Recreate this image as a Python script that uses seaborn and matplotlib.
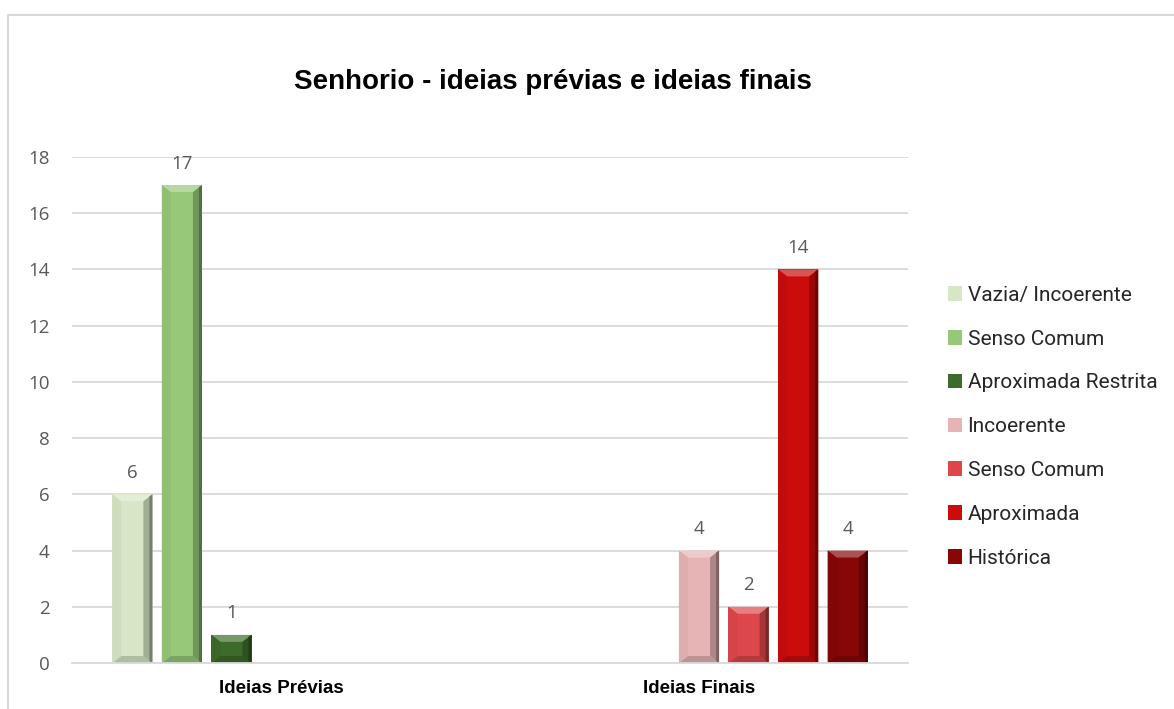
import numpy as np
import pandas as pd
import matplotlib
matplotlib.use("Agg")
import matplotlib.pyplot as plt
from matplotlib.patches import Polygon, Rectangle, Patch
from matplotlib.colors import to_rgb
import seaborn as sns

# --- data -------------------------------------------------------------
phases = ["Ideias Prévias", "Ideias Finais"]
series_keys = ["vazia_prev", "senso_prev", "aprox_restrita",
               "incoerente_fin", "senso_fin", "aproximada_fin", "historica_fin"]
series_labels = ["Vazia/ Incoerente", "Senso Comum", "Aproximada Restrita",
                 "Incoerente", "Senso Comum", "Aproximada", "Histórica"]
previas = [6, 17, 1, 0, 0, 0, 0]
finais = [0, 0, 0, 4, 2, 14, 4]
series_colors = ["#d6e6c6", "#97c878", "#3e6a2a",
                 "#e7b4b5", "#dd474b", "#cc0b0b", "#870606"]
y_ticks = [0, 2, 4, 6, 8, 10, 12, 14, 16, 18]
title = "Senhorio - ideias prévias e ideias finais"

rows = []
for phase, vals in zip(phases, [previas, finais]):
    for key, v in zip(series_keys, vals):
        rows.append({"fase": phase, "serie": key, "n": v})
df = pd.DataFrame(rows)

# --- figure -----------------------------------------------------------
sns.set_style("white")
plt.rcParams["font.family"] = ["Open Sans", "DejaVu Sans"]

W, H = 1174, 709
fig = plt.figure(figsize=(W / 100, H / 100), dpi=100)
ax = fig.add_axes([72 / W, 1 - 663 / H, (908 - 72) / W, (663 - 157) / H])

sns.barplot(data=df, x="fase", y="n", hue="serie", hue_order=series_keys,
            order=phases, palette=series_colors, width=0.83, gap=0.19,
            ax=ax, legend=False, saturation=1, linewidth=0)

ax.set_xlim(-0.5, 1.5)
ax.set_ylim(0, 18)
ax.set_yticks(y_ticks)
ax.set_xlabel("")
ax.set_ylabel("")

# grid and spines
ax.yaxis.grid(True, color="#d9d9d9", linewidth=1.3)
ax.set_axisbelow(True)
for s in ["left", "right", "top"]:
    ax.spines[s].set_visible(False)
ax.spines["bottom"].set_color("#d9d9d9")
ax.spines["bottom"].set_linewidth(1.3)

ax.tick_params(axis="y", length=0, pad=16, labelsize=13.5, labelcolor="#595959")
ax.tick_params(axis="x", which="major", length=0, pad=12)
ax.set_xticks([-0.5, 0.5, 1.5], minor=True)
ax.tick_params(axis="x", which="minor", length=7, color="#d9d9d9", width=1.3)
for lbl in ax.get_xticklabels():
    lbl.set_fontfamily("Liberation Sans")
    lbl.set_fontweight("bold")
    lbl.set_fontsize(13.5)
    lbl.set_color("black")

# --- bevelled bar faces ------------------------------------------------
def shade(c, f):
    r = np.array(to_rgb(c))
    if f >= 0:
        return tuple(r + (1 - r) * f)
    return tuple(r * (1 + f))

inv = ax.transData.inverted()
for cont, col in zip(ax.containers, series_colors):
    for rect in cont.patches:
        h = rect.get_height()
        if h <= 0:
            continue
        x0, y0 = rect.get_x(), rect.get_y()
        (X0, Y0) = ax.transData.transform((x0, y0))
        (X1, Y1) = ax.transData.transform((x0 + rect.get_width(), y0 + h))
        b = 9.0
        bv = min(7.0, (Y1 - Y0) / 2)
        faces = [
            ([(X0, Y1), (X1, Y1), (X1 - b, Y1 - bv), (X0 + b, Y1 - bv)], 0.3),
            ([(X0, Y0), (X1, Y0), (X1 - b, Y0 + bv), (X0 + b, Y0 + bv)], -0.18),
            ([(X0, Y0), (X0 + b, Y0 + bv), (X0 + b, Y1 - bv), (X0, Y1)], -0.04),
            ([(X1, Y0), (X1 - b, Y0 + bv), (X1 - b, Y1 - bv), (X1, Y1)], -0.25),
        ]
        for pts, f in faces:
            ax.add_patch(Polygon(inv.transform(pts), closed=True,
                                 facecolor=shade(col, f), edgecolor="none",
                                 zorder=rect.get_zorder() + 0.1))
        # darker outer edge on the right side
        edge = [(X1 - 3, Y0 + 2), (X1, Y0), (X1, Y1), (X1 - 3, Y1 - 2)]
        ax.add_patch(Polygon(inv.transform(edge), closed=True,
                             facecolor=shade(col, -0.45), edgecolor="none",
                             zorder=rect.get_zorder() + 0.2))

# value labels
for cont in ax.containers:
    labels = [f"{int(r.get_height())}" if r.get_height() > 0 else ""
              for r in cont.patches]
    ax.bar_label(cont, labels=labels, padding=9, fontsize=13.5, color="#595959")

# title
fig.text(553 / W, 1 - 82 / H, title, ha="center", va="center",
         fontsize=20, fontweight="bold", family="Liberation Sans", color="black")

# legend
handles = [Patch(facecolor=c, edgecolor="none") for c in series_colors]
fig.legend(handles, series_labels, loc="upper left",
           bbox_to_anchor=(929 / W, 1 - 267 / H), frameon=False,
           handlelength=0.7, handleheight=0.7,
           handletextpad=0.25, labelspacing=1.19,
           prop={"family": "Roboto", "size": 15})

# chart frame
fig.patches.append(Rectangle((8 / W, -0.1), 1.2, 1 - 15 / H + 0.1,
                             transform=fig.transFigure, facecolor="none",
                             edgecolor="#d9d9d9", linewidth=1.5, zorder=-1))

fig.savefig("out.png", dpi=100)
